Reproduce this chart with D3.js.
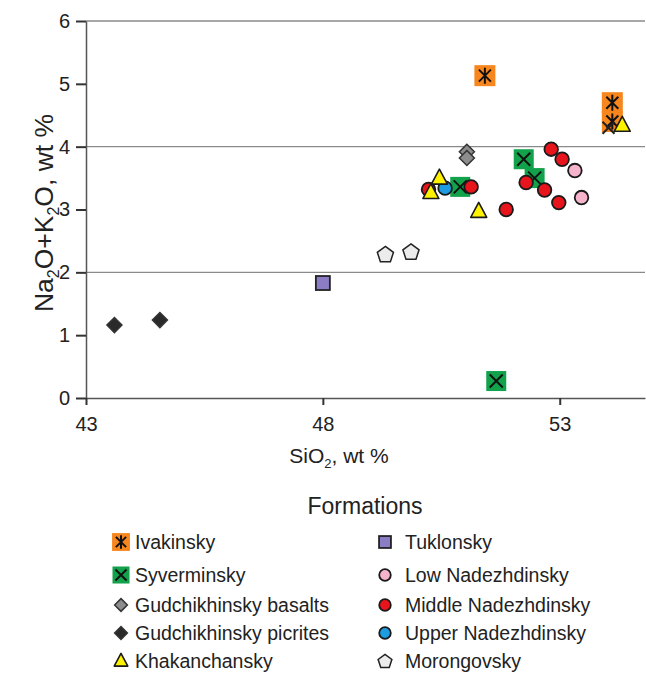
<!DOCTYPE html>
<html>
<head>
<meta charset="utf-8">
<script src="https://cdn.jsdelivr.net/npm/d3@7"></script>
<style>
  body { margin: 0; background: #fff; }
  svg { display: block; font-family: "Liberation Sans", Arial, sans-serif; }
</style>
</head>
<body>
<svg id="chart" width="646" height="674"></svg>
<script>
// SiO2 vs Na2O+K2O (wt %) by formation
const ivakinsky     = [[51.42, 5.13], [54.11, 4.70], [54.11, 4.40]];
const ivakinskyBare = [[54.03, 4.30]];
const syverminsky   = [[52.24, 3.80], [52.47, 3.50], [50.90, 3.36], [51.66, 0.27]];
const gudBasalts    = [[51.04, 3.92], [51.04, 3.82]];
const gudPicrites   = [[43.60, 1.16], [44.56, 1.24]];
const tuklonsky     = [[48.00, 1.83]];
const lowNad        = [[53.32, 3.62], [53.46, 3.19]];
const middleNad     = [[52.82, 3.96], [53.05, 3.80], [52.29, 3.43], [52.68, 3.31],
                       [52.98, 3.11], [51.87, 3.00], [50.23, 3.32], [51.13, 3.36]];
const upperNad      = [[50.58, 3.34]];
const khakanchansky = [[50.46, 3.50], [50.28, 3.27], [51.29, 2.97], [54.32, 4.34]];
const morongovsky   = [[49.32, 2.29], [49.86, 2.33]];

const xTicks = [43, 48, 53];
const yTicks = [0, 1, 2, 3, 4, 5, 6];
const gridValues = [2, 4, 6];

const legendLeft  = ["Ivakinsky", "Syverminsky", "Gudchikhinsky basalts", "Gudchikhinsky picrites", "Khakanchansky"];
const legendRight = ["Tuklonsky", "Low Nadezhdinsky", "Middle Nadezhdinsky", "Upper Nadezhdinsky", "Morongovsky"];

const svg = d3.select("#chart");
const x = d3.scaleLinear().domain([43, 54.8]).range([86, 645]);
const y = d3.scaleLinear().domain([0, 6]).range([398, 21]);

// gridlines
svg.append("g").selectAll("line").data(gridValues).join("line")
  .attr("x1", x(43)).attr("x2", x(54.8))
  .attr("y1", d => y(d)).attr("y2", d => y(d))
  .attr("stroke", "#8a8a8a").attr("stroke-width", 1.3);

// axes
const yAxis = svg.append("g").attr("transform", `translate(${x(43)},0)`)
  .call(d3.axisLeft(y).tickValues(yTicks).tickFormat(d3.format("d")).tickSize(10).tickPadding(6).tickSizeOuter(0));
const xAxis = svg.append("g").attr("transform", `translate(0,${y(0)})`)
  .call(d3.axisBottom(x).tickValues(xTicks).tickFormat(d3.format("d")).tickSize(7).tickPadding(12).tickSizeOuter(0));
[yAxis, xAxis].forEach(a => {
  a.select(".domain").attr("stroke", "#555").attr("stroke-width", 1.5);
  a.selectAll(".tick line").attr("stroke", "#333").attr("stroke-width", 2);
  a.selectAll(".tick text").attr("fill", "#222").style("font-size", "20px").style("font-family", "Liberation Sans, Arial, sans-serif");
});

// axis titles
const xt = svg.append("text").attr("x", 339).attr("y", 463).attr("text-anchor", "middle")
  .attr("fill", "#222").style("font-size", "21px");
xt.append("tspan").text("SiO");
xt.append("tspan").text("2").attr("dy", 5).style("font-size", "13px");
xt.append("tspan").text(", wt %").attr("dy", -5);

const yt = svg.append("text").attr("transform", "translate(53,213) rotate(-90)").attr("text-anchor", "middle")
  .attr("fill", "#222").style("font-size", "26.5px");
yt.append("tspan").text("Na");
yt.append("tspan").text("2").attr("dy", 6).style("font-size", "16px");
yt.append("tspan").text("O+K").attr("dy", -6);
yt.append("tspan").text("2").attr("dy", 6).style("font-size", "16px");
yt.append("tspan").text("O, wt %").attr("dy", -6);

// marker painters: each draws one symbol centred at (0,0) into group g
const painters = {
  ivakinsky(g, s = 1) {
    const h = 10.5 * s, a = 6 * s;
    g.append("rect").attr("x", -h).attr("y", -h).attr("width", 2 * h).attr("height", 2 * h).attr("fill", "#f7861f");
    g.append("path").attr("d", `M${-a},${-a}L${a},${a}M${a},${-a}L${-a},${a}M0,${-a - 2 * s}L0,${a + 2 * s}`)
      .attr("stroke", "#111").attr("stroke-width", 2);
  },
  ivakinskyBare(g) {
    const a = 6;
    g.append("path").attr("d", `M${-a},${-a}L${a},${a}M${a},${-a}L${-a},${a}`)
      .attr("stroke", "#222").attr("stroke-width", 2);
  },
  syverminsky(g, s = 1) {
    const h = 10 * s, a = 6.5 * s;
    g.append("rect").attr("x", -h).attr("y", -h).attr("width", 2 * h).attr("height", 2 * h).attr("fill", "#12a24b");
    g.append("path").attr("d", `M${-a},${-a}L${a},${a}M${a},${-a}L${-a},${a}`)
      .attr("stroke", "#111").attr("stroke-width", 2);
  },
  diamond(fill) {
    return (g, s = 1) => {
      const r = 7.5 * s;
      g.append("path").attr("d", `M0,${-r}L${r},0L0,${r}L${-r},0Z`)
        .attr("fill", fill).attr("stroke", "#333").attr("stroke-width", 1.5);
    };
  },
  tuklonsky(g, s = 1) {
    const h = 7 * s;
    g.append("rect").attr("x", -h).attr("y", -h).attr("width", 2 * h).attr("height", 2 * h)
      .attr("fill", "#8b7cc4").attr("stroke", "#222").attr("stroke-width", 1.8);
  },
  circle(fill) {
    return (g, s = 1) => {
      g.append("circle").attr("r", 6.8 * s).attr("fill", fill).attr("stroke", "#1a1a1a").attr("stroke-width", 1.8);
    };
  },
  triangle(g, s = 1) {
    const w = 8 * s, t = 9 * s, b = 6 * s;
    g.append("path").attr("d", `M0,${-t}L${w},${b}L${-w},${b}Z`)
      .attr("fill", "#fff200").attr("stroke", "#1a1a1a").attr("stroke-width", 1.6).attr("stroke-linejoin", "round");
  },
  pentagon(g, s = 1) {
    const r = 8.5 * s;
    const pts = d3.range(5).map(i => {
      const ang = -Math.PI / 2 + i * 2 * Math.PI / 5;
      return [r * Math.cos(ang), r * Math.sin(ang) + 0.8 * s];
    });
    g.append("path").attr("d", "M" + pts.map(p => p.join(",")).join("L") + "Z")
      .attr("fill", "#ececec").attr("stroke", "#222").attr("stroke-width", 1.5);
  }
};

const series = [
  { name: "Ivakinsky", data: ivakinsky, paint: painters.ivakinsky },
  { name: null, data: ivakinskyBare, paint: painters.ivakinskyBare },
  { name: "Syverminsky", data: syverminsky, paint: painters.syverminsky },
  { name: "Gudchikhinsky basalts", data: gudBasalts, paint: painters.diamond("#8d8d8d") },
  { name: "Gudchikhinsky picrites", data: gudPicrites, paint: painters.diamond("#2a2a2a") },
  { name: "Tuklonsky", data: tuklonsky, paint: painters.tuklonsky },
  { name: "Low Nadezhdinsky", data: lowNad, paint: painters.circle("#f5b3cc") },
  { name: "Middle Nadezhdinsky", data: middleNad, paint: painters.circle("#e8141c") },
  { name: "Upper Nadezhdinsky", data: upperNad, paint: painters.circle("#1d9ddf") },
  { name: "Khakanchansky", data: khakanchansky, paint: painters.triangle },
  { name: "Morongovsky", data: morongovsky, paint: painters.pentagon }
];

const marks = svg.append("g");
series.forEach(s => {
  s.data.forEach(([sx, sy]) => {
    const g = marks.append("g").attr("transform", `translate(${x(sx)},${y(sy)})`);
    s.paint(g);
  });
});

// legend
svg.append("text").attr("x", 365).attr("y", 514).attr("text-anchor", "middle")
  .attr("fill", "#222").style("font-size", "23px").text("Formations");

const rowY = [542, 575, 605, 633, 661];
const byName = Object.fromEntries(series.filter(s => s.name).map(s => [s.name, s]));
[[legendLeft, 121, 135], [legendRight, 385, 405]].forEach(([names, mx, tx]) => {
  names.forEach((n, i) => {
    const g = svg.append("g").attr("transform", `translate(${mx},${rowY[i]})`);
    byName[n].paint(g, 0.85);
    svg.append("text").attr("x", tx).attr("y", rowY[i] + 7)
      .attr("fill", "#222").style("font-size", "19.5px").text(n);
  });
});
</script>
</body>
</html>
